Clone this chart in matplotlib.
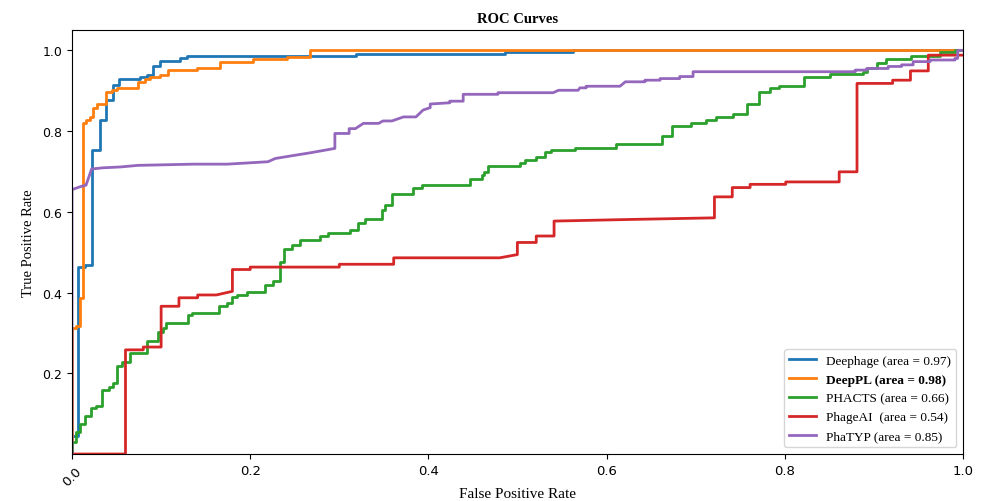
import matplotlib
matplotlib.use("Agg")
import matplotlib.pyplot as plt

# ---------------- data (ROC vertices) ----------------
labels = ["Deephage (area = 0.97)", "DeepPL (area = 0.98)", "PHACTS (area = 0.66)",
          "PhageAI  (area = 0.54)", "PhaTYP (area = 0.85)"]
colors = ["#1f77b4", "#ff7f0e", "#2ca02c", "#d62728", "#9467bd"]

# step curves: jump positions (fpr) and the tpr reached at each jump
deephage_fpr = [0, 0, 0.007, 0.0146, 0.0228, 0.0314, 0.038, 0.0456, 0.053, 0.076, 0.0845,
                0.0913, 0.0988, 0.121, 0.129, 0.319, 0.486, 0.508, 0.562, 1.0]
deephage_tpr = [0, 0.045, 0.463, 0.469, 0.753, 0.827, 0.877, 0.914, 0.928, 0.935, 0.940,
                0.960, 0.974, 0.982, 0.985, 0.991, 0.995, 0.996, 1.0, 1.0]

deeppl_fpr = [0, 0, 0.0045, 0.0095, 0.0125, 0.0157, 0.020, 0.024, 0.028, 0.038, 0.0446, 0.050,
              0.0745, 0.082, 0.0875, 0.099, 0.108, 0.140, 0.166, 0.2035, 0.241, 0.267, 1.0]
deeppl_tpr = [0, 0.312, 0.318, 0.386, 0.819, 0.827, 0.835, 0.856, 0.866, 0.896, 0.901, 0.906,
              0.921, 0.928, 0.935, 0.940, 0.951, 0.957, 0.972, 0.978, 0.984, 1.0, 1.0]

phacts_fpr = [0, 0, 0.0045, 0.009, 0.0146, 0.0213, 0.0266, 0.0333, 0.0419, 0.0464, 0.0509, 0.0557,
              0.0651, 0.0838, 0.0969, 0.1025, 0.1055, 0.1298, 0.1345, 0.1653, 0.1736, 0.180,
              0.1848, 0.196, 0.2166, 0.226, 0.2334, 0.238, 0.2466, 0.2559, 0.2783, 0.2877, 0.312,
              0.3214, 0.3288, 0.3476, 0.3513, 0.3588, 0.3831, 0.3925, 0.447, 0.460, 0.462, 0.467,
              0.503, 0.508, 0.521, 0.531, 0.537, 0.565, 0.611, 0.662, 0.673, 0.695, 0.712, 0.723,
              0.742, 0.758, 0.771, 0.783, 0.793, 0.821, 0.851, 0.888, 0.892, 0.903, 0.914, 0.942,
              0.974, 0.991, 1.0]
phacts_tpr = [0, 0.029, 0.054, 0.074, 0.093, 0.113, 0.120, 0.159, 0.165, 0.176, 0.219, 0.229,
              0.251, 0.280, 0.302, 0.312, 0.325, 0.345, 0.350, 0.366, 0.375, 0.390,
              0.394, 0.401, 0.418, 0.428, 0.476, 0.507, 0.517, 0.529, 0.540, 0.548, 0.554,
              0.571, 0.583, 0.604, 0.616, 0.645, 0.659, 0.667, 0.682, 0.691, 0.699, 0.714,
              0.721, 0.728, 0.736, 0.747, 0.752, 0.759, 0.767, 0.788, 0.813, 0.819, 0.827, 0.835,
              0.842, 0.866, 0.897, 0.906, 0.912, 0.935, 0.941, 0.947, 0.957, 0.968, 0.978, 0.987,
              0.995, 1.0, 1.0]

# polyline curves (contain sloped pieces): explicit vertices
phageai_fpr = [0, 0.060, 0.060, 0.080, 0.080, 0.100, 0.100, 0.120, 0.120, 0.141, 0.141, 0.162,
               0.180, 0.180, 0.200, 0.200, 0.300, 0.300, 0.361, 0.361, 0.480, 0.4998, 0.4998,
               0.521, 0.521, 0.541, 0.541, 0.626, 0.721, 0.721, 0.741, 0.741, 0.761, 0.761,
               0.801, 0.801, 0.861, 0.861, 0.881, 0.881, 0.921, 0.921, 0.941, 0.941, 0.961,
               0.961, 1.0]
phageai_tpr = [0, 0, 0.258, 0.258, 0.265, 0.265, 0.366, 0.366, 0.387, 0.387, 0.394, 0.394,
               0.403, 0.457, 0.457, 0.463, 0.463, 0.470, 0.470, 0.486, 0.486, 0.494, 0.524,
               0.524, 0.540, 0.540, 0.577, 0.581, 0.585, 0.637, 0.637, 0.660, 0.660, 0.668,
               0.668, 0.674, 0.674, 0.699, 0.699, 0.918, 0.918, 0.926, 0.926, 0.949, 0.949,
               0.988, 0.988]

phatyp_fpr = [0, 0, 0.009, 0.0157, 0.022, 0.035, 0.054, 0.074, 0.136, 0.174, 0.220, 0.228, 0.250,
              0.267, 0.295, 0.295, 0.311, 0.311, 0.318, 0.327, 0.344, 0.349, 0.359, 0.372, 0.386,
              0.394, 0.402, 0.402, 0.424, 0.424, 0.439, 0.439, 0.478, 0.478, 0.540, 0.546, 0.568,
              0.570, 0.577, 0.577, 0.615, 0.621, 0.643, 0.643, 0.660, 0.660, 0.682, 0.682, 0.697,
              0.697, 0.879, 0.879, 0.892, 0.892, 0.916, 0.916, 0.931, 0.931, 0.944, 0.944, 0.963,
              0.963, 0.991, 0.991, 0.994, 0.994, 1.0]
phatyp_tpr = [0, 0.655, 0.662, 0.666, 0.706, 0.709, 0.711, 0.715, 0.718, 0.718, 0.724, 0.732, 0.740,
              0.746, 0.757, 0.794, 0.794, 0.806, 0.806, 0.819, 0.819, 0.825, 0.825, 0.835, 0.835,
              0.852, 0.858, 0.867, 0.870, 0.874, 0.874, 0.891, 0.891, 0.895, 0.895, 0.901, 0.901,
              0.907, 0.907, 0.911, 0.911, 0.922, 0.922, 0.926, 0.926, 0.930, 0.930, 0.935, 0.935,
              0.947, 0.947, 0.951, 0.951, 0.955, 0.955, 0.960, 0.960, 0.964, 0.964, 0.972, 0.972,
              0.976, 0.976, 0.980, 0.980, 1.0, 1.0]

xtick_vals = [0.0, 0.2, 0.4, 0.6, 0.8, 1.0]
ytick_vals = [0.2, 0.4, 0.6, 0.8, 1.0]

# ---------------- figure ----------------
SERIF = ["Liberation Serif", "DejaVu Serif"]
fig = plt.figure(figsize=(9.84, 5.02), dpi=100)
ax = fig.add_axes([0.0732, 0.0936, 0.9055, 0.8444])

lw = 2.0
ax.step(deephage_fpr, deephage_tpr, where="post", color=colors[0], lw=lw, label=labels[0])
ax.step(deeppl_fpr, deeppl_tpr, where="post", color=colors[1], lw=lw, label=labels[1])
ax.step(phacts_fpr, phacts_tpr, where="post", color=colors[2], lw=lw, label=labels[2])
ax.plot(phageai_fpr, phageai_tpr, color=colors[3], lw=lw, label=labels[3])
ax.plot(phatyp_fpr, phatyp_tpr, color=colors[4], lw=lw, label=labels[4])

ax.set_xlim(0, 1.0)
ax.set_ylim(0, 1.05)

ax.set_xticks(xtick_vals)
ax.set_xticklabels([f"{v:.1f}" for v in xtick_vals], family="DejaVu Sans", fontsize=9.5)
ax.get_xticklabels()[0].set_rotation(45)
ax.set_yticks(ytick_vals)
ax.set_yticklabels([f"{v:.1f}" for v in ytick_vals], family="DejaVu Sans", fontsize=9)

ax.set_xlabel("False Positive Rate", family=SERIF, fontsize=11)
ax.xaxis.label.set_va("center")
ax.xaxis.set_label_coords(0.5, -0.093)
ax.set_ylabel("True Positive Rate", family=SERIF, fontsize=10.5, labelpad=5)
ax.set_title("ROC Curves", family=SERIF, fontsize=10.5, fontweight="bold")

leg = ax.legend(loc="lower right", prop={"family": SERIF, "size": 9.5})
leg.get_texts()[1].set_fontweight("bold")

fig.savefig("out.png", dpi=100)
